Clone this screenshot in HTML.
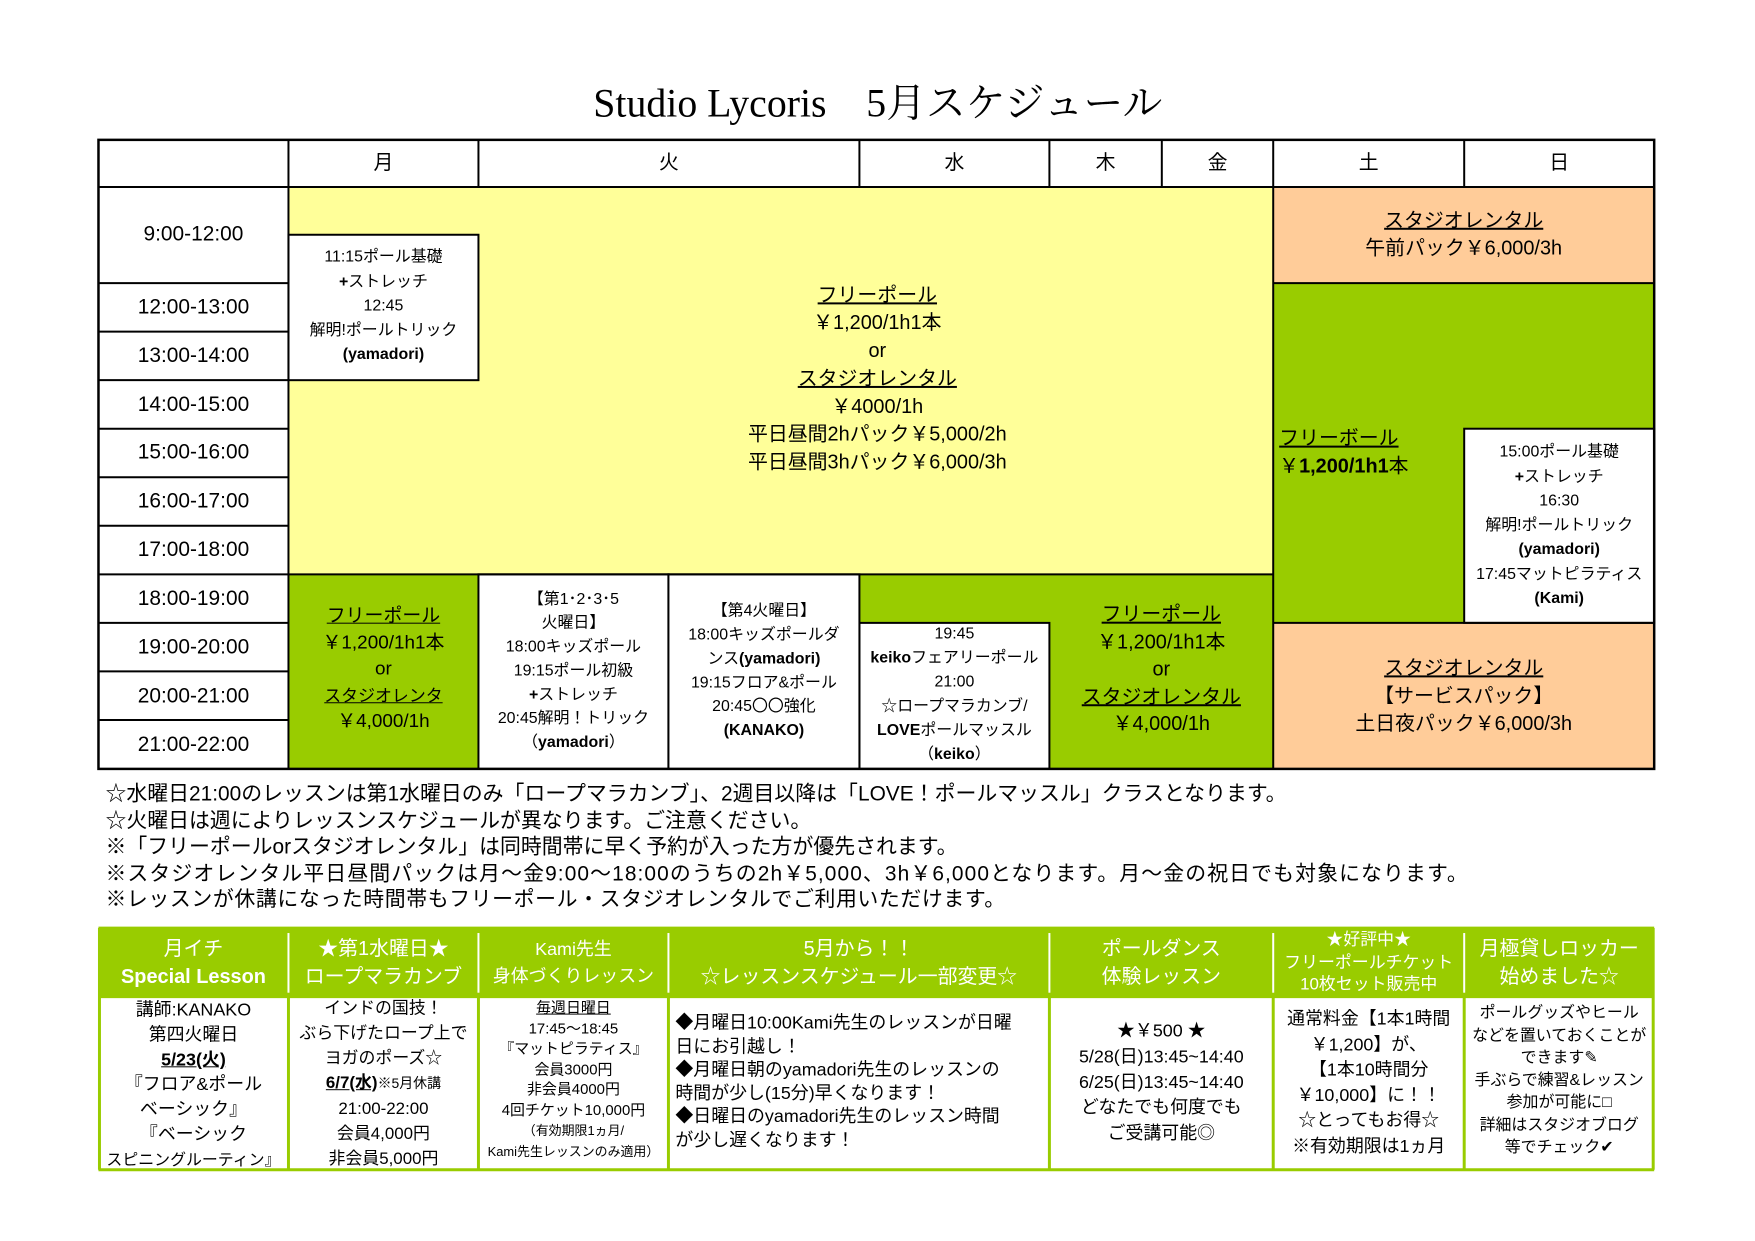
<!DOCTYPE html>
<html><head><meta charset="utf-8">
<style>
*{margin:0;padding:0;box-sizing:border-box}
body{width:1755px;height:1241px;background:#fff;position:relative;overflow:hidden;font-family:"Liberation Sans","Noto Sans CJK JP",sans-serif;color:#000}
#w{position:absolute;left:0;top:0;width:1755px;height:1241px;transform:scale(0.9947);transform-origin:0 0}
.a{position:absolute;text-align:center;white-space:nowrap}
.u{text-decoration:underline}
.b{font-weight:bold}
svg{position:absolute;left:0;top:0}
.w{color:#fff}
</style></head><body><div id="w">
<svg width="1755" height="1241">
<rect x="99" y="140.6" width="1564" height="632.4" fill="#fff"/>
<rect x="290" y="188" width="990" height="389.4" fill="#FFFF99"/>
<rect x="1280" y="188" width="383" height="96.6" fill="#FFCC99"/>
<rect x="1280" y="284.6" width="383" height="341.6" fill="#99CC00"/>
<rect x="1280" y="626.2" width="383" height="146.8" fill="#FFCC99"/>
<rect x="290" y="577.4" width="191" height="195.6" fill="#99CC00"/>
<rect x="864" y="577.4" width="416" height="195.6" fill="#99CC00"/>
<g stroke="#000" stroke-width="2" fill="none">
<rect x="290" y="236" width="191" height="146.2" fill="#fff"/>
<rect x="1472" y="431" width="191" height="195.2" fill="#fff"/>
<rect x="864" y="626.2" width="191" height="146.8" fill="#fff"/>
<rect x="481" y="577.4" width="191" height="195.6" fill="#fff"/>
<rect x="672" y="577.4" width="192" height="195.6" fill="#fff"/>
<line x1="99" y1="188" x2="1663" y2="188"/>
<line x1="290" y1="140.6" x2="290" y2="773"/>
<line x1="481" y1="140.6" x2="481" y2="188"/>
<line x1="864" y1="140.6" x2="864" y2="188"/>
<line x1="1055" y1="140.6" x2="1055" y2="188"/>
<line x1="1168" y1="140.6" x2="1168" y2="188"/>
<line x1="1280" y1="140.6" x2="1280" y2="773"/>
<line x1="1472" y1="140.6" x2="1472" y2="188"/>
<line x1="1280" y1="284.6" x2="1663" y2="284.6"/>
<line x1="1280" y1="626.2" x2="1663" y2="626.2"/>
<line x1="290" y1="577.4" x2="1280" y2="577.4"/>
<line x1="99" y1="284.6" x2="290" y2="284.6"/>
<line x1="99" y1="333.4" x2="290" y2="333.4"/>
<line x1="99" y1="382.2" x2="290" y2="382.2"/>
<line x1="99" y1="431" x2="290" y2="431"/>
<line x1="99" y1="479.8" x2="290" y2="479.8"/>
<line x1="99" y1="528.6" x2="290" y2="528.6"/>
<line x1="99" y1="577.4" x2="290" y2="577.4"/>
<line x1="99" y1="626.2" x2="290" y2="626.2"/>
<line x1="99" y1="675" x2="290" y2="675"/>
<line x1="99" y1="723.8" x2="290" y2="723.8"/>
<rect x="99" y="140.6" width="1564" height="632.4" stroke-width="2.5"/>
</g>
<rect x="99" y="933" width="1564" height="68" fill="#99CC00"/>
<g stroke="#99CC00" stroke-width="3" fill="none">
<line x1="99" y1="933" x2="1663" y2="933"/>
<line x1="99" y1="1002" x2="1663" y2="1002"/>
<line x1="99" y1="1176" x2="1663" y2="1176"/>
<line x1="100" y1="933" x2="100" y2="1176"/>
<line x1="1662" y1="933" x2="1662" y2="1176"/>
<line x1="290" y1="1001" x2="290" y2="1176"/>
<line x1="481" y1="1001" x2="481" y2="1176"/>
<line x1="672" y1="1001" x2="672" y2="1176"/>
<line x1="1055" y1="1001" x2="1055" y2="1176"/>
<line x1="1280" y1="1001" x2="1280" y2="1176"/>
<line x1="1472" y1="1001" x2="1472" y2="1176"/>
</g>
<g stroke="#fff" stroke-width="2">
<line x1="290" y1="938" x2="290" y2="998"/>
<line x1="481" y1="938" x2="481" y2="998"/>
<line x1="672" y1="938" x2="672" y2="998"/>
<line x1="1055" y1="938" x2="1055" y2="998"/>
<line x1="1280" y1="938" x2="1280" y2="998"/>
<line x1="1472" y1="938" x2="1472" y2="998"/>
</g>
</svg>

<div class="a" style="left:0;width:1765px;top:72px;font:40px 'Liberation Serif','Noto Serif CJK SC',serif">Studio Lycoris　5月スケジュール</div>

<div class="a" style="left:290px;width:191px;top:152px;font-size:20px;line-height:24px">月</div>
<div class="a" style="left:481px;width:383px;top:152px;font-size:20px;line-height:24px">火</div>
<div class="a" style="left:864px;width:191px;top:152px;font-size:20px;line-height:24px">水</div>
<div class="a" style="left:1055px;width:113px;top:152px;font-size:20px;line-height:24px">木</div>
<div class="a" style="left:1168px;width:112px;top:152px;font-size:20px;line-height:24px">金</div>
<div class="a" style="left:1280px;width:192px;top:152px;font-size:20px;line-height:24px">土</div>
<div class="a" style="left:1472px;width:191px;top:152px;font-size:20px;line-height:24px">日</div>

<div class="a" style="left:99px;width:191px;top:224px;font-size:21px;line-height:24px">9:00-12:00</div>
<div class="a" style="left:99px;width:191px;top:297px;font-size:21px;line-height:24px">12:00-13:00</div>
<div class="a" style="left:99px;width:191px;top:346px;font-size:21px;line-height:24px">13:00-14:00</div>
<div class="a" style="left:99px;width:191px;top:395px;font-size:21px;line-height:24px">14:00-15:00</div>
<div class="a" style="left:99px;width:191px;top:443px;font-size:21px;line-height:24px">15:00-16:00</div>
<div class="a" style="left:99px;width:191px;top:492px;font-size:21px;line-height:24px">16:00-17:00</div>
<div class="a" style="left:99px;width:191px;top:541px;font-size:21px;line-height:24px">17:00-18:00</div>
<div class="a" style="left:99px;width:191px;top:590px;font-size:21px;line-height:24px">18:00-19:00</div>
<div class="a" style="left:99px;width:191px;top:639px;font-size:21px;line-height:24px">19:00-20:00</div>
<div class="a" style="left:99px;width:191px;top:688px;font-size:21px;line-height:24px">20:00-21:00</div>
<div class="a" style="left:99px;width:191px;top:737px;font-size:21px;line-height:24px">21:00-22:00</div>

<div class="a" style="left:290px;width:191px;top:247px;font-size:16px;line-height:24.5px">11:15ポール基礎<br><b>+</b>ストレッチ<br>12:45<br>解明!ポールトリック<br><b>(yamadori)</b></div>

<div class="a" style="left:290px;width:1184px;top:283px;font-size:20px;line-height:28px"><span class="u">フリーポール</span><br>￥1,200/1h1本<br>or<br><span class="u">スタジオレンタル</span><br>￥4000/1h<br>平日昼間2hパック￥5,000/2h<br>平日昼間3hパック￥6,000/3h</div>

<div class="a" style="left:1280px;width:383px;top:208px;font-size:20px;line-height:28px"><span class="u">スタジオレンタル</span><br>午前パック￥6,000/3h</div>
<div class="a" style="left:1286px;top:427px;font-size:20px;line-height:28px;text-align:left"><span class="u">フリーボール</span><br>￥<b>1,200/1h1</b>本</div>
<div class="a" style="left:1472px;width:191px;top:443px;font-size:16px;line-height:24.5px">15:00ポール基礎<br><b>+</b>ストレッチ<br>16:30<br>解明!ポールトリック<br><b>(yamadori)</b><br>17:45マットピラティス<br><b>(Kami)</b></div>
<div class="a" style="left:1280px;width:383px;top:658px;font-size:20px;line-height:28px"><span class="u">スタジオレンタル</span><br>【サービスパック】<br>土日夜パック￥6,000/3h</div>

<div class="a" style="left:290px;width:191px;top:607px;font-size:19px;line-height:26.5px"><span class="u">フリーポール</span><br>￥1,200/1h1本<br>or<br><span class="u" style="font-size:17px">スタジオレンタ</span><br>￥4,000/1h</div>
<div class="a" style="left:481px;width:191px;top:591px;font-size:16px;line-height:24px">【第1･2･3･5<br>火曜日】<br>18:00キッズポール<br>19:15ポール初級<br><b>+</b>ストレッチ<br>20:45解明！トリック<br>（<b>yamadori</b>）</div>
<div class="a" style="left:672px;width:192px;top:603px;font-size:16px;line-height:24px">【第4火曜日】<br>18:00キッズポールダ<br>ンス<b>(yamadori)</b><br>19:15フロア&amp;ポール<br>20:45〇〇強化<br><b>(KANAKO)</b></div>
<div class="a" style="left:864px;width:191px;top:626px;font-size:16px;line-height:24.2px">19:45<br><b>keiko</b>フェアリーポール<br>21:00<br>☆ロープマラカンブ/<br><b>LOVE</b>ポールマッスル<br>（<b>keiko</b>）</div>
<div class="a" style="left:1055px;width:225px;top:605px;font-size:20px;line-height:27.5px"><span class="u">フリーポール</span><br>￥1,200/1h1本<br>or<br><span class="u">スタジオレンタル</span><br>￥4,000/1h</div>

<div class="a" style="left:106px;top:786px;font-size:21px;line-height:26.5px;text-align:left">☆水曜日21:00のレッスンは第1水曜日のみ「ロープマラカンブ」、2週目以降は「LOVE！ポールマッスル」クラスとなります。<br>☆火曜日は週によりレッスンスケジュールが異なります。ご注意ください。<br>※「フリーポールorスタジオレンタル」は同時間帯に早く予約が入った方が優先されます。<br><span style="letter-spacing:1.1px">※スタジオレンタル平日昼間パックは月～金9:00～18:00のうちの2h￥5,000、3h￥6,000となります。月～金の祝日でも対象になります。</span><br><span style="letter-spacing:0.6px">※レッスンが休講になった時間帯もフリーポール・スタジオレンタルでご利用いただけます。</span></div>

<div class="a w" style="left:99px;width:191px;top:940px;font-size:20px;line-height:28px">月イチ<br><b>Special Lesson</b></div>
<div class="a w" style="left:290px;width:191px;top:940px;font-size:20px;line-height:28px">★第1水曜日★<br>ロープマラカンブ</div>
<div class="a w" style="left:481px;width:191px;top:941px;font-size:18px;line-height:27px">Kami先生<br>身体づくりレッスン</div>
<div class="a w" style="left:672px;width:383px;top:940px;font-size:20px;line-height:28px">5月から！！<br>☆レッスンスケジュール一部変更☆</div>
<div class="a w" style="left:1055px;width:225px;top:940px;font-size:20px;line-height:28px">ポールダンス<br>体験レッスン</div>
<div class="a w" style="left:1280px;width:192px;top:934px;font-size:17px;line-height:22.5px">★好評中★<br>フリーポールチケット<br>10枚セット販売中</div>
<div class="a w" style="left:1472px;width:191px;top:940px;font-size:20px;line-height:28px">月極貸しロッカー<br>始めました☆</div>

<div class="a" style="left:99px;width:191px;top:1003px;font-size:18px;line-height:25px">講師:KANAKO<br>第四火曜日<br><b class="u">5/23(火)</b><br>『フロア&amp;ポール<br>ベーシック』<br>『ベーシック<br><span style="font-size:16px">スピニングルーティン』</span></div>
<div class="a" style="left:290px;width:191px;top:1001px;font-size:17px;line-height:25px">インドの国技！<br>ぶら下げたロープ上で<br>ヨガのポーズ☆<br><b class="u">6/7(水)</b><span style="font-size:14px">※5月休講</span><br>21:00-22:00<br>会員4,000円<br>非会員5,000円</div>
<div class="a" style="left:481px;width:191px;top:1004px;font-size:15px;line-height:20.5px"><span class="u">毎週日曜日</span><br>17:45～18:45<br>『マットピラティス』<br>会員3000円<br>非会員4000円<br>4回チケット10,000円<br><span style="font-size:13px">（有効期限1ヵ月/<br>Kami先生レッスンのみ適用）</span></div>
<div class="a" style="left:679px;top:1017px;font-size:18px;line-height:23.5px;text-align:left">◆月曜日10:00Kami先生のレッスンが日曜<br>日にお引越し！<br>◆月曜日朝のyamadori先生のレッスンの<br>時間が少し(15分)早くなります！<br>◆日曜日のyamadori先生のレッスン時間<br>が少し遅くなります！</div>
<div class="a" style="left:1055px;width:225px;top:1024px;font-size:18px;line-height:25.8px">★￥500 ★<br>5/28(日)13:45~14:40<br>6/25(日)13:45~14:40<br>どなたでも何度でも<br>ご受講可能◎</div>
<div class="a" style="left:1280px;width:192px;top:1012px;font-size:18px;line-height:25.5px">通常料金【1本1時間<br>￥1,200】が、<br>【1本10時間分<br>￥10,000】に！！<br>☆とってもお得☆<br>※有効期限は1ヵ月</div>
<div class="a" style="left:1472px;width:191px;top:1008px;font-size:16px;line-height:22.5px">ポールグッズやヒール<br>などを置いておくことが<br>できます✎<br>手ぶらで練習&amp;レッスン<br>参加が可能に□<br>詳細はスタジオブログ<br>等でチェック✔</div>
</div></body></html>
